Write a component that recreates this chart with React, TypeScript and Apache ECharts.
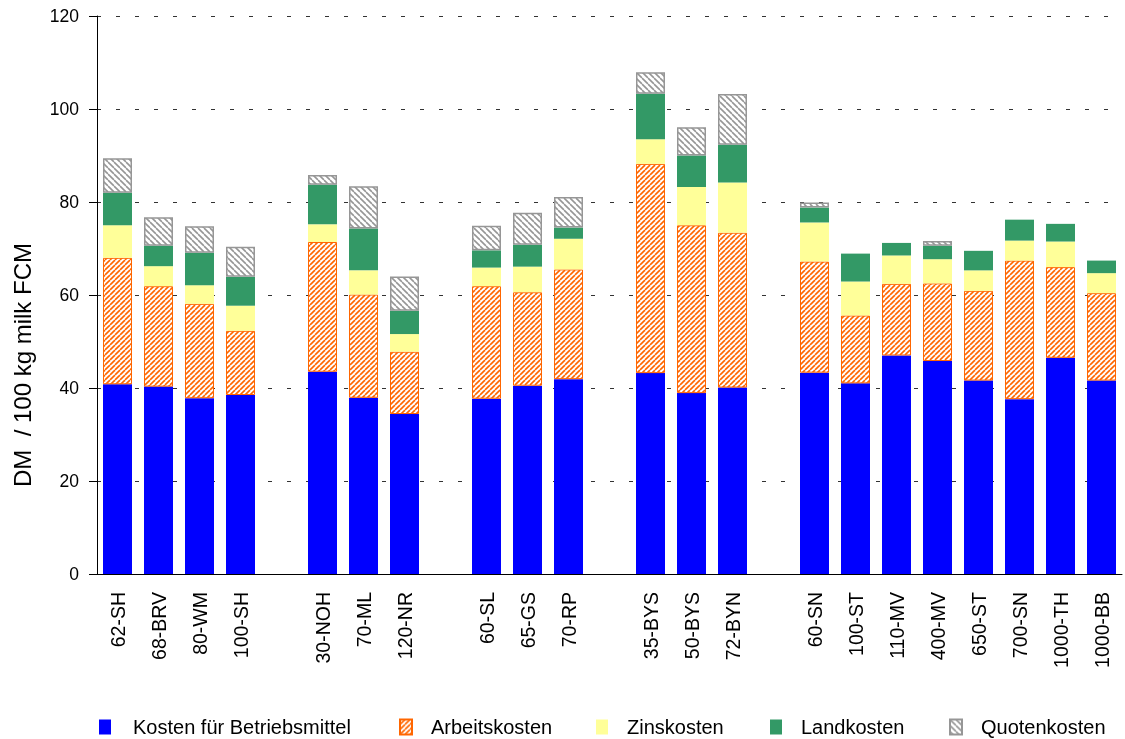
import React, { useEffect, useRef } from "react";
import * as echarts from "echarts";

const categories = ["62-SH", "68-BRV", "80-WM", "100-SH", "", "30-NOH", "70-ML", "120-NR", "", "60-SL", "65-GS", "70-RP", "", "35-BYS", "50-BYS", "72-BYN", "", "60-SN", "100-ST", "110-MV", "400-MV", "650-ST", "700-SN", "1000-TH", "1000-BB"];

const betriebsmittel = [40.8, 40.3, 37.8, 38.5, null, 43.5, 37.9, 34.4, null, 37.7, 40.5, 41.9, null, 43.2, 38.9, 40.1, null, 43.3, 41.0, 47.0, 45.8, 41.6, 37.6, 46.5, 41.6];
const arbeitskosten = [27.2, 21.6, 20.3, 13.8, null, 27.9, 22.2, 13.4, null, 24.2, 20.1, 23.6, null, 45.0, 36.1, 33.3, null, 23.9, 14.6, 15.4, 16.7, 19.3, 29.8, 19.5, 18.8];
const zinskosten = [7.0, 4.3, 4.0, 5.4, null, 3.8, 5.2, 3.8, null, 4.0, 5.5, 6.6, null, 5.3, 8.2, 10.8, null, 8.4, 7.3, 6.1, 5.2, 4.4, 4.3, 5.5, 4.3];
const landkosten = [7.0, 4.4, 7.0, 6.2, null, 8.5, 9.0, 5.0, null, 3.7, 4.7, 2.4, null, 9.8, 6.8, 8.1, null, 3.2, 6.0, 2.7, 2.9, 4.2, 4.5, 3.8, 2.7];
const quotenkosten = [7.4, 6.1, 5.7, 6.5, null, 2.1, 9.1, 7.4, null, 5.3, 6.9, 6.6, null, 4.6, 6.1, 10.9, null, 1.1, null, null, 1.0, null, null, null, null];

const seriesNames = ["Kosten für Betriebsmittel", "Arbeitskosten", "Zinskosten", "Landkosten", "Quotenkosten"];
const yTicks = { min: 0, max: 120, interval: 20 };
const yTitle = "DM  / 100 kg milk FCM";

const FONT = "'Liberation Sans', Arial, sans-serif";
const legendLefts = [99, 399, 596, 770, 949];
const legendPads = [17, 14, 14, 14, 14];

function makeHatch(color: string, dir: "/" | "\\", size: number, lw: number) {
  const c = document.createElement("canvas");
  c.width = size;
  c.height = size;
  const ctx = c.getContext("2d")!;
  ctx.fillStyle = "#ffffff";
  ctx.fillRect(0, 0, size, size);
  ctx.strokeStyle = color;
  ctx.lineWidth = lw;
  for (const o of [-size, 0, size]) {
    ctx.beginPath();
    if (dir === "/") {
      ctx.moveTo(o, size);
      ctx.lineTo(o + size, 0);
    } else {
      ctx.moveTo(o, 0);
      ctx.lineTo(o + size, size);
    }
    ctx.stroke();
  }
  return c;
}

export default function App() {
  const ref = useRef<HTMLDivElement>(null);
  useEffect(() => {
    document.body.style.margin = "0";
    const chart = echarts.init(ref.current!, undefined, { renderer: "svg" });
    const orange = { image: makeHatch("#FF6600", "/", 5, 1.6), repeat: "repeat" };
    const gray = { image: makeHatch("#969696", "\\", 6, 1.6), repeat: "repeat" };
    const mk = (name: string, data: any[], itemStyle: any) => ({
      name,
      type: "bar",
      stack: "total",
      barWidth: 29,
      data: data.map((v) => (v === null ? "-" : v)),
      itemStyle,
      emphasis: { disabled: true },
    });
    chart.setOption({
      animation: false,
      grid: { left: 97, right: 3, top: 16, bottom: 165, containLabel: false },
      legend: seriesNames.map((n, i) => ({
        left: legendLefts[i],
        top: 717,
        padding: 0,
        itemWidth: 12,
        itemHeight: 15,
        icon: "rect",
        textStyle: { fontSize: 20, lineHeight: 20, fontFamily: FONT, color: "#000", padding: [0, 0, 0, legendPads[i]] },
        data: [n],
      })),
      xAxis: {
        type: "category",
        data: categories,
        axisLine: { lineStyle: { color: "#000", width: 1 } },
        axisTick: { interval: 0, length: 6, lineStyle: { color: "#000" } },
        axisLabel: { interval: 0, rotate: 90, fontSize: 19.5, fontFamily: FONT, color: "#000", margin: 18 },
      },
      yAxis: {
        type: "value",
        min: yTicks.min,
        max: yTicks.max,
        interval: yTicks.interval,
        axisLine: { show: true, lineStyle: { color: "#000", width: 1 } },
        axisTick: { show: true, length: 8, lineStyle: { color: "#000" } },
        axisLabel: { fontSize: 17.5, fontFamily: FONT, color: "#000", margin: 18 },
        splitLine: { show: true, lineStyle: { color: "#333", type: [4, 15], width: 1 } },
      },
      graphic: [
        {
          type: "text",
          x: 22,
          y: 365,
          rotation: Math.PI / 2,
          style: {
            text: yTitle,
            fontSize: 24,
            fontFamily: FONT,
            fill: "#000",
            align: "center",
            verticalAlign: "middle",
          },
        },
      ],
      series: [
        mk(seriesNames[0], betriebsmittel, { color: "#0000FF" }),
        mk(seriesNames[1], arbeitskosten, { color: orange, borderColor: "#FF6600", borderWidth: 1 }),
        mk(seriesNames[2], zinskosten, { color: "#FFFF99" }),
        mk(seriesNames[3], landkosten, { color: "#339966" }),
        mk(seriesNames[4], quotenkosten, { color: gray, borderColor: "#969696", borderWidth: 1.5 }),
      ],
    });
    return () => chart.dispose();
  }, []);
  return <div ref={ref} style={{ position: "fixed", left: 0, top: 0, width: 1125, height: 739 }} />;
}
